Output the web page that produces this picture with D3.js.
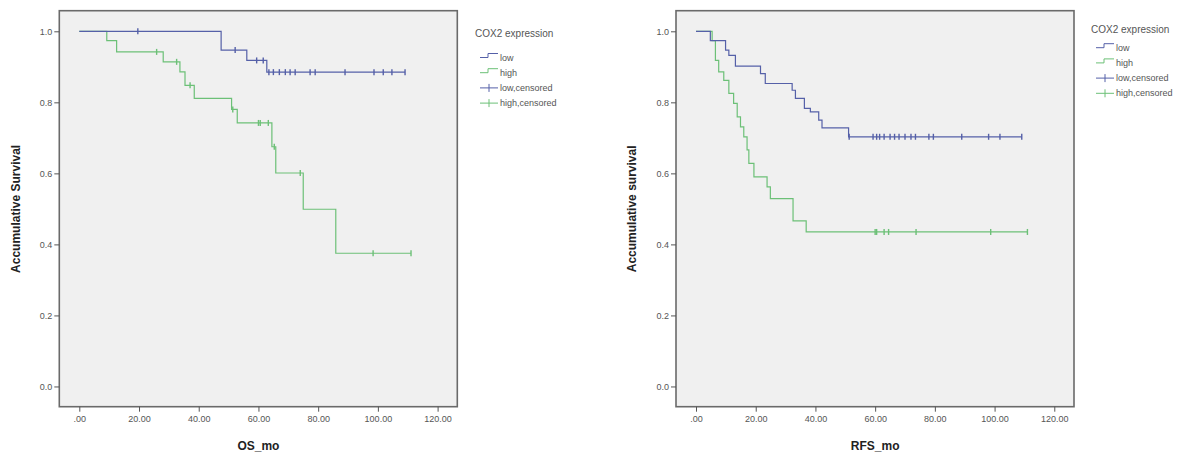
<!DOCTYPE html>
<html>
<head>
<meta charset="utf-8">
<script src="https://cdn.jsdelivr.net/npm/d3@7"></script>
<style>
  body { margin: 0; background: #fff; }
  svg { font-family: "Liberation Sans", Arial, sans-serif; }
</style>
</head>
<body>
<svg width="1191" height="455"></svg>
<script>
const svg = d3.select("svg");

// step points [time, survival] for each group
const osLow = [[0, 1], [47.5, 0.947], [56.1, 0.918], [62.8, 0.885], [109.1, 0.885]];
const osHigh = [[0, 1], [9.2, 0.974], [12.5, 0.942], [28.1, 0.914], [33.7, 0.886], [35.4, 0.848],
  [38.5, 0.811], [51.0, 0.780], [52.9, 0.742], [64.5, 0.675], [65.8, 0.601], [75.0, 0.499],
  [85.9, 0.375], [111.1, 0.375]];
const osLowCens = [19.6, 52.2, 59.4, 61.6, 63.5, 65, 67, 69, 70.6, 72.3, 77.3, 79, 89, 98.7, 101.8, 104.7, 109.1];
const osHighCens = [25.9, 32.6, 37.1, 51.4, 60, 60.6, 63.3, 65.3, 74, 98.4, 111.1];

const rfsLow = [[0, 1], [4.8, 0.974], [9.9, 0.947], [11, 0.932], [13.2, 0.902], [21.6, 0.881],
  [23.2, 0.853], [32.2, 0.834], [33.3, 0.811], [36.3, 0.783], [38.3, 0.773], [41.1, 0.75],
  [42.2, 0.728], [51.1, 0.703], [109.1, 0.703]];
const rfsHigh = [[0, 1], [5.4, 0.974], [6.5, 0.918], [7.6, 0.886], [9.3, 0.862], [11, 0.825],
  [12.6, 0.797], [13.8, 0.759], [14.9, 0.731], [16, 0.703], [17.1, 0.666], [17.7, 0.628],
  [19.4, 0.59], [23.8, 0.562], [24.9, 0.529], [32.5, 0.466], [36.9, 0.435], [111, 0.435]];
const rfsLowCens = [51.3, 59.3, 60.5, 61.5, 63, 65, 66.5, 68, 70, 72, 73.5, 78, 79.5, 89, 98, 101.8, 109.1];
const rfsHighCens = [60, 60.5, 63, 64.5, 73.7, 98.7, 111];

const xTicks = [0, 20, 40, 60, 80, 100, 120];
const yTicks = [0, 0.2, 0.4, 0.6, 0.8, 1.0];
const legendLabels = ["low", "high", "low,censored", "high,censored"];

const blue = "#5560a8", green = "#6cc077";

function survAt(steps, t) {
  let s = steps[0][1];
  steps.forEach(d => { if (d[0] <= t) s = d[1]; });
  return s;
}

function drawPanel(opt) {
  const x = d3.scaleLinear().domain([-6.7, 126.6]).range([opt.left, opt.left + 398]);
  const y = d3.scaleLinear().domain([-0.057, 1.058]).range([406.7, 10.7]);
  const g = svg.append("g");

  g.append("rect")
    .attr("x", x.range()[0]).attr("y", 10.7)
    .attr("width", 398).attr("height", 396)
    .attr("fill", "#f0f0f0")
    .attr("stroke", "#6a6a6a").attr("stroke-width", 1.6);

  const yAxis = g.append("g")
    .attr("transform", `translate(${x.range()[0]},0)`)
    .call(d3.axisLeft(y).tickValues(yTicks).tickSize(5).tickPadding(2).tickFormat(d3.format(".1f")));
  const xAxis = g.append("g")
    .attr("transform", `translate(0,406.7)`)
    .call(d3.axisBottom(x).tickValues(xTicks).tickSize(5).tickPadding(4)
      .tickFormat(d => d === 0 ? ".00" : d3.format(".2f")(d)));
  [xAxis, yAxis].forEach(a => {
    a.select(".domain").remove();
    a.selectAll("line").attr("stroke", "#555");
    a.selectAll("text").attr("fill", "#555").style("font-size", "9px");
  });

  const line = d3.line().x(d => x(d[0])).y(d => y(d[1])).curve(d3.curveStepAfter);
  const series = [
    { steps: opt.low, cens: opt.lowCens, color: blue },
    { steps: opt.high, cens: opt.highCens, color: green }
  ];
  series.slice().reverse().forEach(sr => {
    g.append("path").datum(sr.steps)
      .attr("fill", "none").attr("stroke", sr.color).attr("stroke-width", 1.2)
      .attr("d", line);
    g.selectAll(null).data(sr.cens).enter().append("line")
      .attr("x1", d => x(d)).attr("x2", d => x(d))
      .attr("y1", d => y(survAt(sr.steps, d)) - 3)
      .attr("y2", d => y(survAt(sr.steps, d)) + 3)
      .attr("stroke", sr.color).attr("stroke-width", 1.4);
  });

  g.append("text")
    .attr("x", x(60)).attr("y", 450)
    .attr("text-anchor", "middle")
    .style("font-size", "12px").style("font-weight", "bold").attr("fill", "#222")
    .text(opt.xTitle);

  g.append("text")
    .attr("transform", `translate(${opt.yTitleX},${y(0.5)}) rotate(-90)`)
    .attr("text-anchor", "middle")
    .style("font-size", "12px").style("font-weight", "bold").attr("fill", "#222")
    .text(opt.yTitle);

  // legend
  const lg = g.append("g").attr("transform", `translate(${opt.legX},0)`);
  lg.append("text").attr("x", 0).attr("y", opt.legTitleY + 3)
    .style("font-size", "10px").attr("fill", "#555").text("COX2 expression");
  legendLabels.forEach((lab, i) => {
    const cy = opt.legItemY + i * 15.2;
    const c = i % 2 === 0 ? blue : green;
    if (i < 2) {
      lg.append("path")
        .attr("d", `M5,${cy} h8 v-4 h10`)
        .attr("fill", "none").attr("stroke", c).attr("stroke-width", 1);
    } else {
      lg.append("path")
        .attr("d", `M5,${cy} h18 M14,${cy - 4} v8`)
        .attr("fill", "none").attr("stroke", c).attr("stroke-width", 1);
    }
    lg.append("text").attr("x", 25).attr("y", cy + 3)
      .style("font-size", "9px").attr("fill", "#555").text(lab);
  });
}

drawPanel({
  left: 59.3, low: osLow, high: osHigh, lowCens: osLowCens, highCens: osHighCens,
  xTitle: "OS_mo", yTitle: "Accumulative Survival", yTitleX: 20,
  legX: 475, legTitleY: 34, legItemY: 57.5
});
drawPanel({
  left: 676, low: rfsLow, high: rfsHigh, lowCens: rfsLowCens, highCens: rfsHighCens,
  xTitle: "RFS_mo", yTitle: "Accumulative survival", yTitleX: 636,
  legX: 1091, legTitleY: 30, legItemY: 47.7
});
</script>
</body>
</html>
